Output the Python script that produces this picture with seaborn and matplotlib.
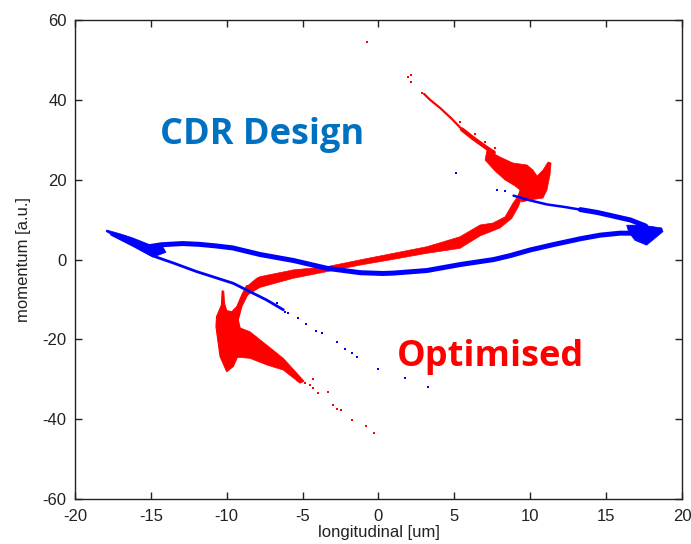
import matplotlib
matplotlib.use("Agg")
import matplotlib.pyplot as plt
import pandas as pd
import seaborn as sns

BLUE = "#0000FF"
RED = "#FF0000"

# ---------------- CDR design beam (blue) ----------------
# main loop centreline
cdr_loop_x = [-15.3, -14.3, -12.9, -11.8, -10.7, -9.6, -7.8, -5.6, -3.4, -1.2, 0.3,
              1.0, 3.2, 5.4, 7.6, 8.7, 10.0, 11.6, 13.3, 14.6, 15.9, 16.8, 17.4]
cdr_loop_y = [3.1, 3.7, 4.0, 3.8, 3.4, 2.9, 1.25, -0.25, -2.2, -3.3, -3.5,
              -3.4, -2.75, -1.25, 0.0, 1.0, 2.4, 3.8, 5.2, 6.1, 6.6, 6.6, 6.0]
# dense head at the left end
cdr_head_x = [-17.91, -16.9, -16.18, -15.06, -14.2, -14.0, -14.86, -15.72, -16.57, -17.6, -17.95]
cdr_head_y = [7.4, 6.3, 5.4, 3.7, 3.1, 1.8, 0.6, 2.4, 4.4, 6.3, 7.0]
# dense tip at the right end
cdr_tip_x = [16.35, 17.4, 18.66, 18.75, 17.67, 16.9, 16.5]
cdr_tip_y = [8.6, 8.6, 7.9, 7.0, 3.6, 4.8, 6.8]
# upper return branch (thick near the tip, thinning to the left)
cdr_upper_x = [17.6, 16.6, 15.45, 14.4, 13.3]
cdr_upper_y = [8.4, 9.9, 10.9, 11.8, 12.5]
cdr_upper_thin_x = [13.3, 12.2, 11.1, 10.0, 8.9]
cdr_upper_thin_y = [12.5, 13.2, 13.8, 14.8, 16.0]
# lower branch leaving the head
cdr_lower_x = [-17.6, -16.2, -14.86, -13.5, -12.0, -9.57, -8.47, -7.37, -6.27]
cdr_lower_y = [6.3, 3.6, 0.9, -0.9, -3.0, -5.96, -8.06, -10.14, -12.6]
# isolated particles
cdr_dots_x = [-6.71, -6.16, -5.94, -5.28, -4.78, -4.12, -3.74, -2.75, -2.21, -1.77,
              -1.44, -0.01, 1.75, 3.26, 8.34, 7.8, 5.1]
cdr_dots_y = [-10.97, -13.07, -13.47, -14.72, -16.15, -17.83, -18.33, -20.58, -22.41, -23.33,
              -24.34, -27.5, -29.7, -31.9, 17.2, 17.4, 21.7]

# ---------------- Optimised beam (red) ----------------
# dense core at the head
opt_core_x = [-10.3, -10.2, -10.15, -10.0, -9.67, -9.34, -9.01, -8.69, -8.3, -8.47, -9.01,
              -9.24, -9.1, -9.3, -9.57, -10.0, -10.44, -10.71, -10.67, -10.35]
opt_core_y = [-7.8, -8.0, -11.0, -12.8, -13.1, -11.82, -8.89, -6.5, -6.9, -7.64, -11.82,
              -15.15, -17.5, -24.5, -26.8, -28.1, -24.3, -16.8, -14.3, -11.4]
# spray falling away from the core
opt_spray_x = [-9.2, -8.47, -7.37, -6.27, -5.17, -4.9, -5.17, -6.27, -7.37, -8.47, -9.3]
opt_spray_y = [-17.0, -18.08, -21.4, -24.75, -29.35, -30.5, -31.0, -27.7, -26.4, -24.75, -24.5]
# body of the bunch: upper and lower edges
opt_body_top_x = [-8.69, -8.03, -7.81, -5.61, -3.41, -1.22, 0.98, 3.18, 5.37, 6.69, 7.55,
                  8.34, 8.86, 9.32, 9.6]
opt_body_top_y = [-6.8, -4.7, -4.3, -2.6, -1.8, -0.1, 1.55, 3.2, 5.7, 8.65, 9.15,
                  10.7, 14.1, 16.6, 17.5]
opt_body_bot_x = [9.9, 9.52, 9.21, 8.78, 8.01, 6.69, 5.37, 3.18, 0.98, -1.22, -3.41,
                  -5.61, -7.81, -8.47, -8.8]
opt_body_bot_y = [16.0, 16.2, 13.2, 10.3, 7.9, 5.9, 2.8, 1.55, 0.05, -1.4, -3.05,
                  -4.7, -7.0, -8.5, -9.5]
# hook at the tail of the bunch
opt_hook_x = [7.15, 8.01, 8.86, 9.79, 10.18, 10.45, 10.84, 11.17, 11.37, 11.30, 11.10,
              10.84, 9.98, 9.46, 9.19, 9.32, 9.0, 8.34, 7.68, 7.02]
opt_hook_y = [27.43, 25.68, 24.18, 23.68, 22.42, 20.92, 22.42, 24.43, 24.18, 21.17, 17.41,
              15.41, 14.91, 14.41, 15.91, 17.41, 18.42, 19.92, 22.17, 24.93]
# streak running up from the hook
opt_streak_x = [5.5, 6.23, 7.15, 7.6]
opt_streak_y = [32.6, 30.4, 27.9, 26.8]
opt_streak_thin_x = [3.0, 3.4, 4.05, 4.84, 5.5]
opt_streak_thin_y = [41.5, 40.0, 38.0, 35.2, 32.6]
# isolated particles
opt_dots_x = [-0.76, 1.94, 2.14, 2.14, 2.87, 5.37, 6.36, 7.02, 7.68,
              -4.84, -4.30, -4.51, -3.97, -3.31, -3.02, -2.75, -2.49, -1.77, -0.82, -0.30,
              -5.37, -4.32]
opt_dots_y = [54.5, 45.7, 46.2, 44.5, 41.7, 34.5, 31.4, 29.5, 27.9,
              -31.0, -30.0, -31.4, -33.5, -33.1, -36.4, -37.5, -37.7, -40.2, -41.6, -43.4,
              -30.2, -32.2]

x_ticks = [-20, -15, -10, -5, 0, 5, 10, 15, 20]
y_ticks = [-60, -40, -20, 0, 20, 40, 60]

sns.set_theme(style="ticks")
plt.rcParams["font.family"] = ["Liberation Sans", "DejaVu Sans"]

fig = plt.figure(figsize=(6.91, 5.44), dpi=100)
ax = fig.add_axes([0.1085, 0.0827, 0.8785, 0.8805])


def path(xs, ys, color, lw, z):
    df = pd.DataFrame({"x": xs, "y": ys})
    sns.lineplot(data=df, x="x", y="y", ax=ax, sort=False, estimator=None,
                 color=color, linewidth=lw, zorder=z, solid_capstyle="round")


def dots(xs, ys, color, z):
    df = pd.DataFrame({"x": xs, "y": ys})
    sns.scatterplot(data=df, x="x", y="y", ax=ax, color=color, marker="s",
                    s=4, linewidth=0, zorder=z)


# optimised beam
ax.fill(opt_core_x, opt_core_y, color=RED, lw=0.8, zorder=2)
ax.fill(opt_spray_x, opt_spray_y, color=RED, lw=0.5, zorder=2)
ax.fill(opt_body_top_x + opt_body_bot_x, opt_body_top_y + opt_body_bot_y,
        color=RED, lw=0.5, zorder=2)
ax.fill(opt_hook_x, opt_hook_y, color=RED, lw=0.5, zorder=2)
path(opt_streak_x, opt_streak_y, RED, 3.0, 2)
path(opt_streak_thin_x, opt_streak_thin_y, RED, 1.6, 2)
dots(opt_dots_x, opt_dots_y, RED, 2)

# CDR design beam
path(cdr_loop_x, cdr_loop_y, BLUE, 3.6, 3)
ax.fill(cdr_head_x, cdr_head_y, color=BLUE, lw=0.5, zorder=3)
ax.fill(cdr_tip_x, cdr_tip_y, color=BLUE, lw=0.5, zorder=3)
path(cdr_upper_x, cdr_upper_y, BLUE, 3.6, 3)
path(cdr_upper_thin_x, cdr_upper_thin_y, BLUE, 1.8, 3)
path(cdr_lower_x, cdr_lower_y, BLUE, 2.0, 3)
dots(cdr_dots_x, cdr_dots_y, BLUE, 3)

ax.set_xlim(-20, 20)
ax.set_ylim(-60, 60)
ax.set_xticks(x_ticks)
ax.set_yticks(y_ticks)
ax.set_xticklabels([str(t) for t in x_ticks])
ax.set_yticklabels([str(t) for t in y_ticks])
ax.tick_params(direction="in", length=5, width=1, colors="#222222",
               top=True, right=True, labelsize=12)
ax.tick_params(axis="x", pad=7)
ax.tick_params(axis="y", pad=6)
for s in ax.spines.values():
    s.set_visible(True)
    s.set_color("#222222")
    s.set_linewidth(1)
ax.set_xlabel("longitudinal [um]", fontsize=12, color="#222222", labelpad=1)
ax.set_ylabel("momentum [a.u.]", fontsize=12, color="#222222", labelpad=8)

ax.text(-14.4, 31.2, "CDR Design", color="#0070C0", fontsize=26, fontweight="bold",
        family=["Open Sans", "DejaVu Sans"], va="center", ha="left", zorder=5)
ax.text(1.2, -24.4, "Optimised", color=RED, fontsize=26, fontweight="bold",
        family=["Open Sans", "DejaVu Sans"], va="center", ha="left", zorder=5)

fig.savefig("out.png", dpi=100)
